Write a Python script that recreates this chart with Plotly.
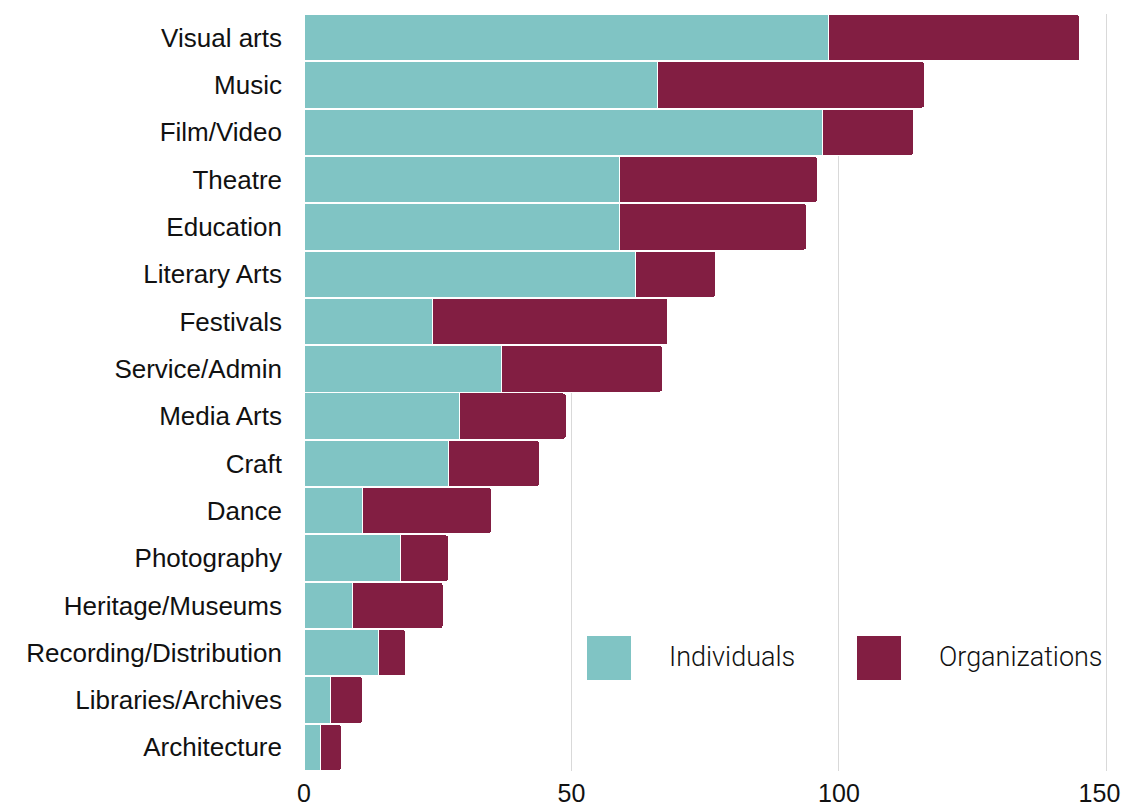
import plotly.graph_objects as go

categories = ["Visual arts", "Music", "Film/Video", "Theatre", "Education", "Literary Arts",
              "Festivals", "Service/Admin", "Media Arts", "Craft", "Dance", "Photography",
              "Heritage/Museums", "Recording/Distribution", "Libraries/Archives", "Architecture"]
individuals = [98, 66, 97, 59, 59, 62, 24, 37, 29, 27, 11, 18, 9, 14, 5, 3]
organizations = [47, 50, 17, 37, 35, 15, 44, 30, 20, 17, 24, 9, 17, 5, 6, 4]
series_names = ["Individuals", "Organizations"]
x_ticks = [0, 50, 100, 150]

TEAL = "#80C4C4"
MAROON = "#821E42"

OFF = 8  # default page body margin
W, H = 1130 - 2 * OFF, 811 - 2 * OFF
ML, MT = 304 - OFF, 14 - OFF
MR = W - (1106 - OFF) - 2
MB = H - (771 - OFF)

fig = go.Figure()
fig.add_trace(go.Bar(y=categories, x=individuals, orientation="h", name=series_names[0],
                     marker=dict(color=TEAL, line=dict(color="white", width=1))))
fig.add_trace(go.Bar(y=categories, x=organizations, orientation="h", name=series_names[1],
                     marker=dict(color=MAROON, line=dict(color="white", width=1), cornerradius=3)))

def px_x(p):
    return (p - OFF - ML) / (W - ML - MR)

def px_y(p):
    return 1 - (p - OFF - MT) / (H - MT - MB)

# legend drawn as shapes + text
legend_items = [(series_names[0], TEAL, 587, 667), (series_names[1], MAROON, 857, 937)]
for name, col, sx, tx in legend_items:
    fig.add_shape(type="rect", xref="paper", yref="paper",
                  x0=px_x(sx), x1=px_x(sx + 44), y0=px_y(680), y1=px_y(636),
                  fillcolor=col, line=dict(width=0), layer="above")
    fig.add_annotation(xref="paper", yref="paper", x=px_x(tx), y=px_y(657),
                       text=name, showarrow=False, xanchor="left", yanchor="middle",
                       font=dict(family="Roboto", size=27, color="#111111", weight=300))

# keep the last tick label inside the visible page edge
tick_text = [str(v) for v in x_ticks]
tick_text[-1] = tick_text[-1] + "\u00a0\u00a0"

fig.update_layout(
    width=W, height=H,
    margin=dict(l=ML, r=MR, t=MT, b=MB, pad=0),
    barmode="stack", bargap=0.02,
    plot_bgcolor="white", paper_bgcolor="white",
    showlegend=False,
    font=dict(family="Liberation Sans, Arial, sans-serif", color="#111111"),
    xaxis=dict(range=[0, 150.3], tickvals=x_ticks, ticktext=tick_text,
               showgrid=True, gridcolor="#d9d9d9", gridwidth=1,
               zeroline=True, zerolinecolor="#d9d9d9", zerolinewidth=1,
               tickfont=dict(size=25), ticks="", showline=False, automargin=False,
               ticklabeloverflow="allow", ticklabelstandoff=5),
    yaxis=dict(categoryorder="array", categoryarray=categories, autorange="reversed",
               tickfont=dict(size=26), ticks="", ticklen=0, showline=False, ticklabelstandoff=21,
               automargin=False),
)

fig.write_html("out.html", config={"responsive": False, "displayModeBar": False})
